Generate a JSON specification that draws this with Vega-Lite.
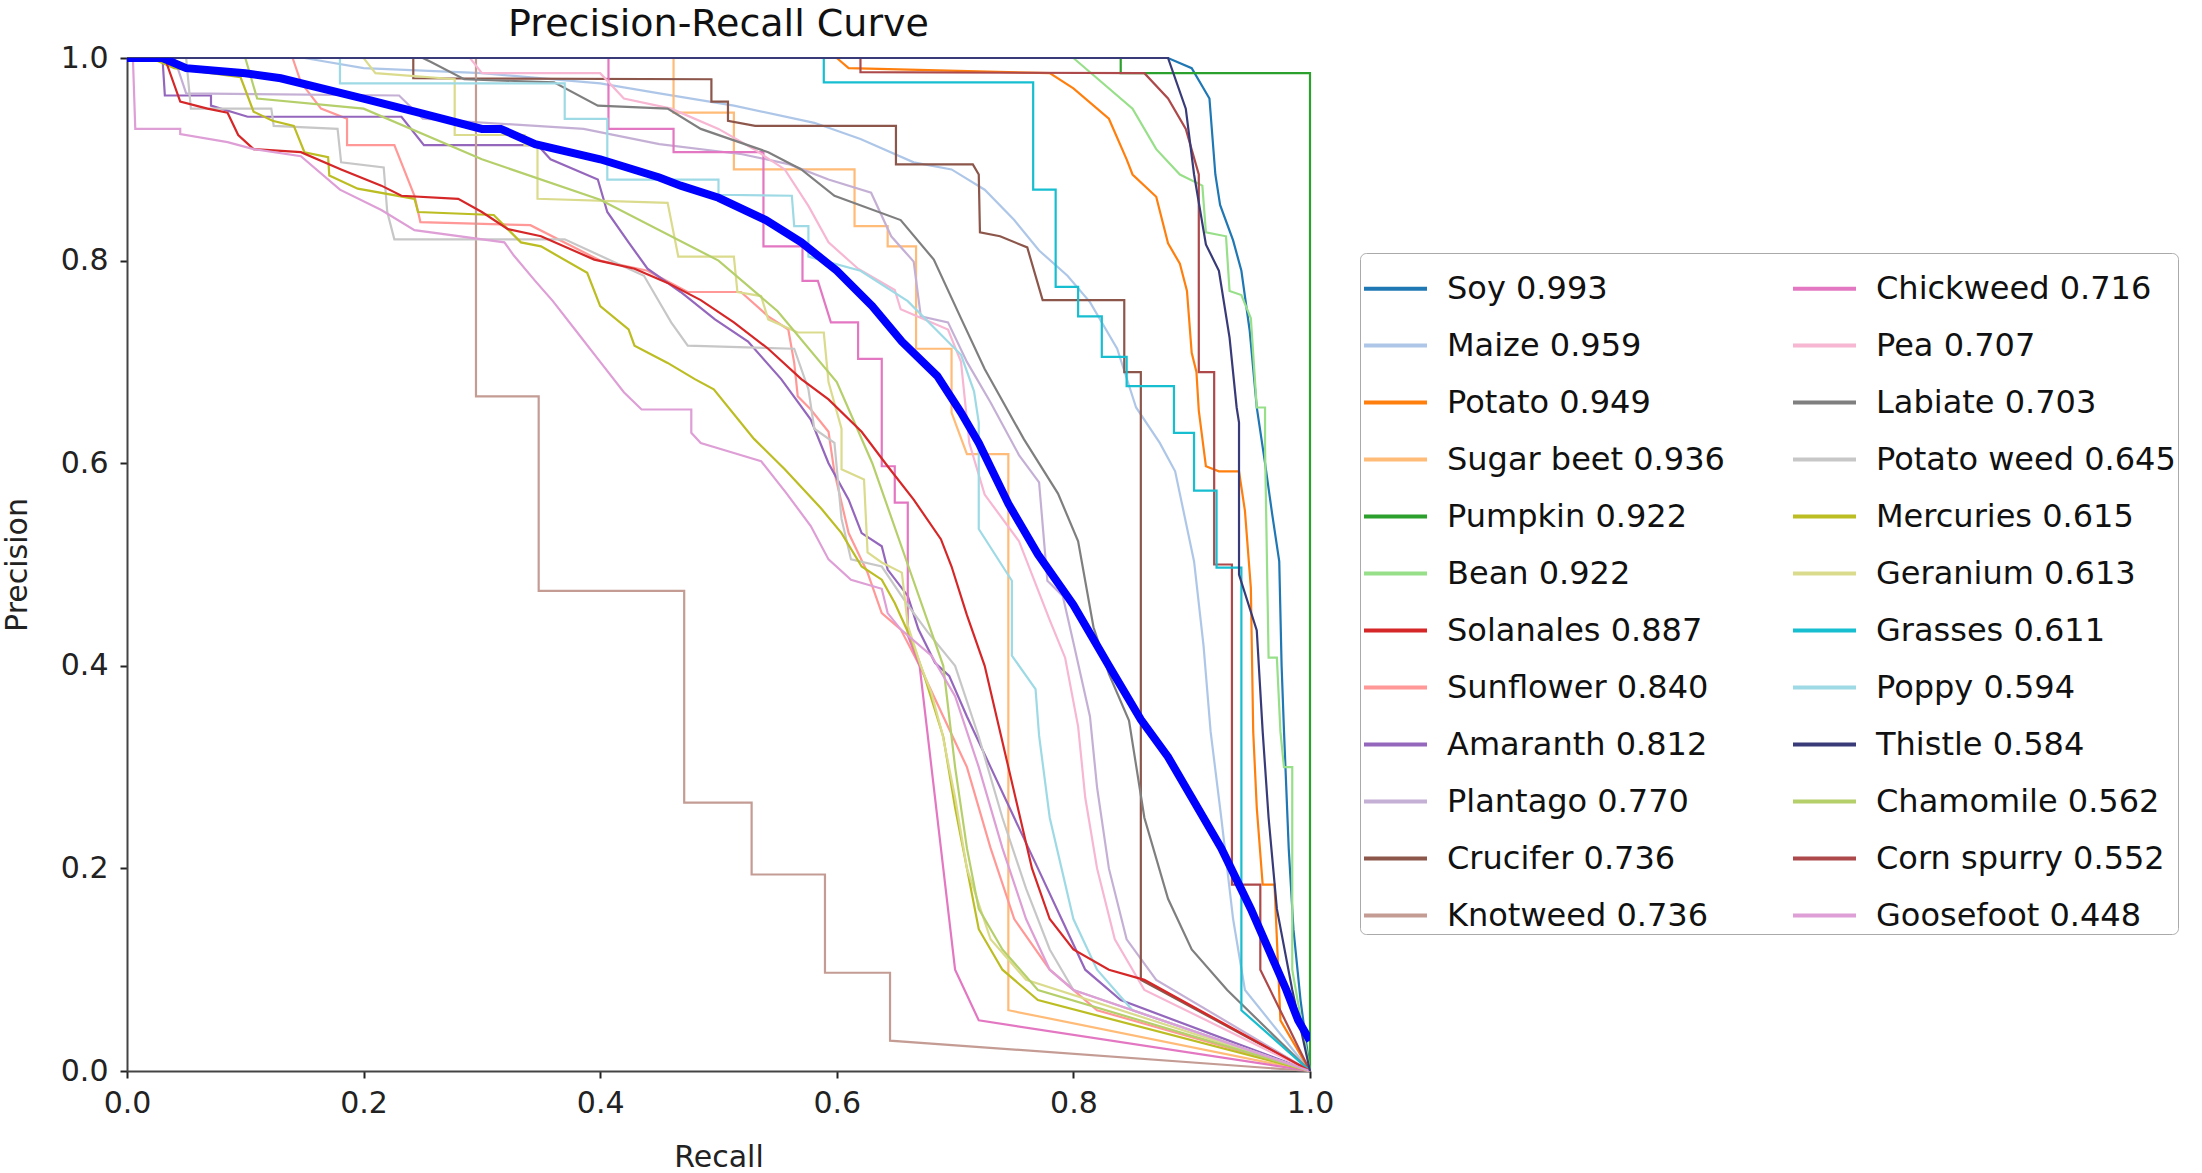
{
  "$schema": "https://vega.github.io/schema/vega-lite/v6.json",
  "width": 1183,
  "height": 1013,
  "autosize": {"type": "none"},
  "padding": {"left": 127, "top": 58, "right": 892, "bottom": 102},
  "background": "white",
  "title": {"text": "Precision-Recall Curve", "fontSize": 38, "font": "DejaVu Sans", "fontWeight": "normal", "color": "#111", "offset": -1},
  "data": {
    "values": [
      {"c":"Soy 0.993","x":0,"y":1},{"c":"Soy 0.993","x":0.88,"y":1},{"c":"Soy 0.993","x":0.9,"y":0.99},{"c":"Soy 0.993","x":0.915,"y":0.96},{"c":"Soy 0.993","x":0.92,"y":0.885},{"c":"Soy 0.993","x":0.924,"y":0.855},{"c":"Soy 0.993","x":0.935,"y":0.82},{"c":"Soy 0.993","x":0.942,"y":0.79},{"c":"Soy 0.993","x":0.949,"y":0.731},{"c":"Soy 0.993","x":0.955,"y":0.655},{"c":"Soy 0.993","x":0.962,"y":0.6},{"c":"Soy 0.993","x":0.968,"y":0.55},{"c":"Soy 0.993","x":0.974,"y":0.503},{"c":"Soy 0.993","x":0.976,"y":0.4},{"c":"Soy 0.993","x":0.978,"y":0.336},{"c":"Soy 0.993","x":0.982,"y":0.22},{"c":"Soy 0.993","x":0.986,"y":0.14},{"c":"Soy 0.993","x":0.992,"y":0.07},{"c":"Soy 0.993","x":1,"y":0},

      {"c":"Maize 0.959","x":0,"y":1},{"c":"Maize 0.959","x":0.15,"y":1},{"c":"Maize 0.959","x":0.2,"y":0.99},{"c":"Maize 0.959","x":0.3,"y":0.985},{"c":"Maize 0.959","x":0.4,"y":0.975},{"c":"Maize 0.959","x":0.45,"y":0.965},{"c":"Maize 0.959","x":0.513,"y":0.953},{"c":"Maize 0.959","x":0.581,"y":0.936},{"c":"Maize 0.959","x":0.62,"y":0.92},{"c":"Maize 0.959","x":0.665,"y":0.897},{"c":"Maize 0.959","x":0.697,"y":0.89},{"c":"Maize 0.959","x":0.725,"y":0.87},{"c":"Maize 0.959","x":0.75,"y":0.84},{"c":"Maize 0.959","x":0.771,"y":0.81},{"c":"Maize 0.959","x":0.795,"y":0.785},{"c":"Maize 0.959","x":0.814,"y":0.759},{"c":"Maize 0.959","x":0.837,"y":0.713},{"c":"Maize 0.959","x":0.853,"y":0.655},{"c":"Maize 0.959","x":0.873,"y":0.62},{"c":"Maize 0.959","x":0.886,"y":0.592},{"c":"Maize 0.959","x":0.902,"y":0.503},{"c":"Maize 0.959","x":0.91,"y":0.42},{"c":"Maize 0.959","x":0.916,"y":0.335},{"c":"Maize 0.959","x":0.925,"y":0.25},{"c":"Maize 0.959","x":0.935,"y":0.15},{"c":"Maize 0.959","x":0.945,"y":0.08},{"c":"Maize 0.959","x":1,"y":0},

      {"c":"Potato 0.949","x":0,"y":1},{"c":"Potato 0.949","x":0.6,"y":1},{"c":"Potato 0.949","x":0.61,"y":0.99},{"c":"Potato 0.949","x":0.78,"y":0.985},{"c":"Potato 0.949","x":0.8,"y":0.97},{"c":"Potato 0.949","x":0.83,"y":0.94},{"c":"Potato 0.949","x":0.845,"y":0.9},{"c":"Potato 0.949","x":0.85,"y":0.885},{"c":"Potato 0.949","x":0.87,"y":0.863},{"c":"Potato 0.949","x":0.88,"y":0.817},{"c":"Potato 0.949","x":0.89,"y":0.797},{"c":"Potato 0.949","x":0.896,"y":0.77},{"c":"Potato 0.949","x":0.9,"y":0.709},{"c":"Potato 0.949","x":0.904,"y":0.69},{"c":"Potato 0.949","x":0.906,"y":0.652},{"c":"Potato 0.949","x":0.912,"y":0.597},{"c":"Potato 0.949","x":0.923,"y":0.592},{"c":"Potato 0.949","x":0.94,"y":0.592},{"c":"Potato 0.949","x":0.945,"y":0.553},{"c":"Potato 0.949","x":0.95,"y":0.477},{"c":"Potato 0.949","x":0.952,"y":0.335},{"c":"Potato 0.949","x":0.955,"y":0.26},{"c":"Potato 0.949","x":0.96,"y":0.184},{"c":"Potato 0.949","x":0.97,"y":0.184},{"c":"Potato 0.949","x":0.975,"y":0.05},{"c":"Potato 0.949","x":1,"y":0},

      {"c":"Sugar beet 0.936","x":0,"y":1},{"c":"Sugar beet 0.936","x":0.462,"y":1},{"c":"Sugar beet 0.936","x":0.462,"y":0.946},{"c":"Sugar beet 0.936","x":0.513,"y":0.946},{"c":"Sugar beet 0.936","x":0.513,"y":0.89},{"c":"Sugar beet 0.936","x":0.615,"y":0.89},{"c":"Sugar beet 0.936","x":0.615,"y":0.834},{"c":"Sugar beet 0.936","x":0.643,"y":0.834},{"c":"Sugar beet 0.936","x":0.643,"y":0.814},{"c":"Sugar beet 0.936","x":0.667,"y":0.814},{"c":"Sugar beet 0.936","x":0.667,"y":0.713},{"c":"Sugar beet 0.936","x":0.697,"y":0.713},{"c":"Sugar beet 0.936","x":0.697,"y":0.65},{"c":"Sugar beet 0.936","x":0.71,"y":0.609},{"c":"Sugar beet 0.936","x":0.745,"y":0.609},{"c":"Sugar beet 0.936","x":0.745,"y":0.06},{"c":"Sugar beet 0.936","x":1,"y":0},

      {"c":"Pumpkin 0.922","x":0,"y":1},{"c":"Pumpkin 0.922","x":0.84,"y":1},{"c":"Pumpkin 0.922","x":0.84,"y":0.985},{"c":"Pumpkin 0.922","x":1,"y":0.985},{"c":"Pumpkin 0.922","x":1,"y":0},

      {"c":"Bean 0.922","x":0,"y":1},{"c":"Bean 0.922","x":0.8,"y":1},{"c":"Bean 0.922","x":0.82,"y":0.98},{"c":"Bean 0.922","x":0.85,"y":0.95},{"c":"Bean 0.922","x":0.87,"y":0.91},{"c":"Bean 0.922","x":0.89,"y":0.885},{"c":"Bean 0.922","x":0.909,"y":0.874},{"c":"Bean 0.922","x":0.912,"y":0.828},{"c":"Bean 0.922","x":0.929,"y":0.824},{"c":"Bean 0.922","x":0.932,"y":0.77},{"c":"Bean 0.922","x":0.942,"y":0.766},{"c":"Bean 0.922","x":0.95,"y":0.743},{"c":"Bean 0.922","x":0.955,"y":0.655},{"c":"Bean 0.922","x":0.962,"y":0.655},{"c":"Bean 0.922","x":0.962,"y":0.616},{"c":"Bean 0.922","x":0.965,"y":0.408},{"c":"Bean 0.922","x":0.972,"y":0.408},{"c":"Bean 0.922","x":0.975,"y":0.335},{"c":"Bean 0.922","x":0.978,"y":0.3},{"c":"Bean 0.922","x":0.985,"y":0.3},{"c":"Bean 0.922","x":0.985,"y":0.1},{"c":"Bean 0.922","x":1,"y":0},

      {"c":"Corn spurry 0.552","x":0,"y":1},{"c":"Corn spurry 0.552","x":0.62,"y":1},{"c":"Corn spurry 0.552","x":0.62,"y":0.986},{"c":"Corn spurry 0.552","x":0.86,"y":0.985},{"c":"Corn spurry 0.552","x":0.88,"y":0.96},{"c":"Corn spurry 0.552","x":0.895,"y":0.93},{"c":"Corn spurry 0.552","x":0.906,"y":0.885},{"c":"Corn spurry 0.552","x":0.906,"y":0.69},{"c":"Corn spurry 0.552","x":0.919,"y":0.69},{"c":"Corn spurry 0.552","x":0.919,"y":0.5},{"c":"Corn spurry 0.552","x":0.934,"y":0.5},{"c":"Corn spurry 0.552","x":0.934,"y":0.184},{"c":"Corn spurry 0.552","x":0.958,"y":0.184},{"c":"Corn spurry 0.552","x":0.958,"y":0.1},{"c":"Corn spurry 0.552","x":1,"y":0},

      {"c":"Sunflower 0.840","x":0,"y":1},{"c":"Sunflower 0.840","x":0.14,"y":1},{"c":"Sunflower 0.840","x":0.147,"y":0.976},{"c":"Sunflower 0.840","x":0.164,"y":0.95},{"c":"Sunflower 0.840","x":0.186,"y":0.94},{"c":"Sunflower 0.840","x":0.186,"y":0.914},{"c":"Sunflower 0.840","x":0.226,"y":0.914},{"c":"Sunflower 0.840","x":0.243,"y":0.864},{"c":"Sunflower 0.840","x":0.248,"y":0.838},{"c":"Sunflower 0.840","x":0.341,"y":0.835},{"c":"Sunflower 0.840","x":0.4,"y":0.8},{"c":"Sunflower 0.840","x":0.44,"y":0.79},{"c":"Sunflower 0.840","x":0.474,"y":0.769},{"c":"Sunflower 0.840","x":0.519,"y":0.769},{"c":"Sunflower 0.840","x":0.542,"y":0.745},{"c":"Sunflower 0.840","x":0.559,"y":0.732},{"c":"Sunflower 0.840","x":0.564,"y":0.699},{"c":"Sunflower 0.840","x":0.567,"y":0.666},{"c":"Sunflower 0.840","x":0.578,"y":0.653},{"c":"Sunflower 0.840","x":0.593,"y":0.631},{"c":"Sunflower 0.840","x":0.598,"y":0.591},{"c":"Sunflower 0.840","x":0.61,"y":0.531},{"c":"Sunflower 0.840","x":0.626,"y":0.492},{"c":"Sunflower 0.840","x":0.638,"y":0.452},{"c":"Sunflower 0.840","x":0.654,"y":0.436},{"c":"Sunflower 0.840","x":0.67,"y":0.4},{"c":"Sunflower 0.840","x":0.69,"y":0.35},{"c":"Sunflower 0.840","x":0.71,"y":0.3},{"c":"Sunflower 0.840","x":0.73,"y":0.22},{"c":"Sunflower 0.840","x":0.75,"y":0.15},{"c":"Sunflower 0.840","x":0.78,"y":0.1},{"c":"Sunflower 0.840","x":0.82,"y":0.06},{"c":"Sunflower 0.840","x":1,"y":0},

      {"c":"Amaranth 0.812","x":0,"y":1},{"c":"Amaranth 0.812","x":0.03,"y":1},{"c":"Amaranth 0.812","x":0.032,"y":0.963},{"c":"Amaranth 0.812","x":0.071,"y":0.963},{"c":"Amaranth 0.812","x":0.071,"y":0.953},{"c":"Amaranth 0.812","x":0.102,"y":0.942},{"c":"Amaranth 0.812","x":0.232,"y":0.942},{"c":"Amaranth 0.812","x":0.251,"y":0.914},{"c":"Amaranth 0.812","x":0.347,"y":0.914},{"c":"Amaranth 0.812","x":0.358,"y":0.9},{"c":"Amaranth 0.812","x":0.398,"y":0.88},{"c":"Amaranth 0.812","x":0.406,"y":0.848},{"c":"Amaranth 0.812","x":0.424,"y":0.818},{"c":"Amaranth 0.812","x":0.44,"y":0.792},{"c":"Amaranth 0.812","x":0.468,"y":0.769},{"c":"Amaranth 0.812","x":0.497,"y":0.742},{"c":"Amaranth 0.812","x":0.525,"y":0.72},{"c":"Amaranth 0.812","x":0.553,"y":0.683},{"c":"Amaranth 0.812","x":0.578,"y":0.643},{"c":"Amaranth 0.812","x":0.593,"y":0.6},{"c":"Amaranth 0.812","x":0.61,"y":0.564},{"c":"Amaranth 0.812","x":0.621,"y":0.531},{"c":"Amaranth 0.812","x":0.638,"y":0.518},{"c":"Amaranth 0.812","x":0.643,"y":0.495},{"c":"Amaranth 0.812","x":0.66,"y":0.469},{"c":"Amaranth 0.812","x":0.669,"y":0.436},{"c":"Amaranth 0.812","x":0.683,"y":0.403},{"c":"Amaranth 0.812","x":0.695,"y":0.39},{"c":"Amaranth 0.812","x":0.71,"y":0.35},{"c":"Amaranth 0.812","x":0.73,"y":0.3},{"c":"Amaranth 0.812","x":0.75,"y":0.25},{"c":"Amaranth 0.812","x":0.77,"y":0.2},{"c":"Amaranth 0.812","x":0.79,"y":0.15},{"c":"Amaranth 0.812","x":0.81,"y":0.1},{"c":"Amaranth 0.812","x":0.84,"y":0.07},{"c":"Amaranth 0.812","x":1,"y":0},

      {"c":"Plantago 0.770","x":0,"y":1},{"c":"Plantago 0.770","x":0.04,"y":1},{"c":"Plantago 0.770","x":0.05,"y":0.965},{"c":"Plantago 0.770","x":0.23,"y":0.963},{"c":"Plantago 0.770","x":0.25,"y":0.94},{"c":"Plantago 0.770","x":0.386,"y":0.93},{"c":"Plantago 0.770","x":0.45,"y":0.915},{"c":"Plantago 0.770","x":0.52,"y":0.905},{"c":"Plantago 0.770","x":0.56,"y":0.895},{"c":"Plantago 0.770","x":0.593,"y":0.88},{"c":"Plantago 0.770","x":0.629,"y":0.867},{"c":"Plantago 0.770","x":0.646,"y":0.824},{"c":"Plantago 0.770","x":0.665,"y":0.799},{"c":"Plantago 0.770","x":0.671,"y":0.745},{"c":"Plantago 0.770","x":0.694,"y":0.739},{"c":"Plantago 0.770","x":0.71,"y":0.7},{"c":"Plantago 0.770","x":0.73,"y":0.66},{"c":"Plantago 0.770","x":0.754,"y":0.608},{"c":"Plantago 0.770","x":0.771,"y":0.581},{"c":"Plantago 0.770","x":0.778,"y":0.484},{"c":"Plantago 0.770","x":0.791,"y":0.469},{"c":"Plantago 0.770","x":0.8,"y":0.423},{"c":"Plantago 0.770","x":0.814,"y":0.35},{"c":"Plantago 0.770","x":0.82,"y":0.28},{"c":"Plantago 0.770","x":0.83,"y":0.2},{"c":"Plantago 0.770","x":0.845,"y":0.13},{"c":"Plantago 0.770","x":0.87,"y":0.09},{"c":"Plantago 0.770","x":1,"y":0},

      {"c":"Crucifer 0.736","x":0,"y":1},{"c":"Crucifer 0.736","x":0.242,"y":1},{"c":"Crucifer 0.736","x":0.242,"y":0.98},{"c":"Crucifer 0.736","x":0.494,"y":0.979},{"c":"Crucifer 0.736","x":0.494,"y":0.957},{"c":"Crucifer 0.736","x":0.508,"y":0.957},{"c":"Crucifer 0.736","x":0.508,"y":0.938},{"c":"Crucifer 0.736","x":0.531,"y":0.933},{"c":"Crucifer 0.736","x":0.65,"y":0.933},{"c":"Crucifer 0.736","x":0.65,"y":0.895},{"c":"Crucifer 0.736","x":0.715,"y":0.895},{"c":"Crucifer 0.736","x":0.72,"y":0.885},{"c":"Crucifer 0.736","x":0.721,"y":0.828},{"c":"Crucifer 0.736","x":0.738,"y":0.824},{"c":"Crucifer 0.736","x":0.761,"y":0.813},{"c":"Crucifer 0.736","x":0.774,"y":0.761},{"c":"Crucifer 0.736","x":0.843,"y":0.761},{"c":"Crucifer 0.736","x":0.843,"y":0.69},{"c":"Crucifer 0.736","x":0.857,"y":0.69},{"c":"Crucifer 0.736","x":0.857,"y":0.09},{"c":"Crucifer 0.736","x":1,"y":0},

      {"c":"Knotweed 0.736","x":0,"y":1},{"c":"Knotweed 0.736","x":0.295,"y":1},{"c":"Knotweed 0.736","x":0.295,"y":0.666},{"c":"Knotweed 0.736","x":0.348,"y":0.666},{"c":"Knotweed 0.736","x":0.348,"y":0.474},{"c":"Knotweed 0.736","x":0.471,"y":0.474},{"c":"Knotweed 0.736","x":0.471,"y":0.265},{"c":"Knotweed 0.736","x":0.528,"y":0.265},{"c":"Knotweed 0.736","x":0.528,"y":0.194},{"c":"Knotweed 0.736","x":0.59,"y":0.194},{"c":"Knotweed 0.736","x":0.59,"y":0.097},{"c":"Knotweed 0.736","x":0.645,"y":0.097},{"c":"Knotweed 0.736","x":0.645,"y":0.03},{"c":"Knotweed 0.736","x":1,"y":0},

      {"c":"Chickweed 0.716","x":0,"y":1},{"c":"Chickweed 0.716","x":0.407,"y":1},{"c":"Chickweed 0.716","x":0.407,"y":0.93},{"c":"Chickweed 0.716","x":0.462,"y":0.93},{"c":"Chickweed 0.716","x":0.462,"y":0.907},{"c":"Chickweed 0.716","x":0.538,"y":0.907},{"c":"Chickweed 0.716","x":0.538,"y":0.814},{"c":"Chickweed 0.716","x":0.571,"y":0.814},{"c":"Chickweed 0.716","x":0.571,"y":0.78},{"c":"Chickweed 0.716","x":0.584,"y":0.78},{"c":"Chickweed 0.716","x":0.595,"y":0.739},{"c":"Chickweed 0.716","x":0.618,"y":0.739},{"c":"Chickweed 0.716","x":0.618,"y":0.703},{"c":"Chickweed 0.716","x":0.638,"y":0.703},{"c":"Chickweed 0.716","x":0.638,"y":0.597},{"c":"Chickweed 0.716","x":0.649,"y":0.597},{"c":"Chickweed 0.716","x":0.649,"y":0.561},{"c":"Chickweed 0.716","x":0.66,"y":0.561},{"c":"Chickweed 0.716","x":0.66,"y":0.43},{"c":"Chickweed 0.716","x":0.67,"y":0.4},{"c":"Chickweed 0.716","x":0.68,"y":0.3},{"c":"Chickweed 0.716","x":0.69,"y":0.2},{"c":"Chickweed 0.716","x":0.7,"y":0.1},{"c":"Chickweed 0.716","x":0.72,"y":0.05},{"c":"Chickweed 0.716","x":1,"y":0},

      {"c":"Pea 0.707","x":0,"y":1},{"c":"Pea 0.707","x":0.29,"y":1},{"c":"Pea 0.707","x":0.3,"y":0.985},{"c":"Pea 0.707","x":0.4,"y":0.985},{"c":"Pea 0.707","x":0.42,"y":0.96},{"c":"Pea 0.707","x":0.46,"y":0.95},{"c":"Pea 0.707","x":0.5,"y":0.93},{"c":"Pea 0.707","x":0.53,"y":0.91},{"c":"Pea 0.707","x":0.556,"y":0.89},{"c":"Pea 0.707","x":0.576,"y":0.854},{"c":"Pea 0.707","x":0.593,"y":0.818},{"c":"Pea 0.707","x":0.618,"y":0.792},{"c":"Pea 0.707","x":0.649,"y":0.771},{"c":"Pea 0.707","x":0.654,"y":0.752},{"c":"Pea 0.707","x":0.694,"y":0.732},{"c":"Pea 0.707","x":0.705,"y":0.7},{"c":"Pea 0.707","x":0.712,"y":0.62},{"c":"Pea 0.707","x":0.725,"y":0.569},{"c":"Pea 0.707","x":0.754,"y":0.523},{"c":"Pea 0.707","x":0.78,"y":0.445},{"c":"Pea 0.707","x":0.793,"y":0.408},{"c":"Pea 0.707","x":0.804,"y":0.34},{"c":"Pea 0.707","x":0.81,"y":0.27},{"c":"Pea 0.707","x":0.82,"y":0.2},{"c":"Pea 0.707","x":0.835,"y":0.13},{"c":"Pea 0.707","x":0.86,"y":0.08},{"c":"Pea 0.707","x":1,"y":0},

      {"c":"Labiate 0.703","x":0,"y":1},{"c":"Labiate 0.703","x":0.25,"y":1},{"c":"Labiate 0.703","x":0.257,"y":0.996},{"c":"Labiate 0.703","x":0.285,"y":0.979},{"c":"Labiate 0.703","x":0.361,"y":0.976},{"c":"Labiate 0.703","x":0.398,"y":0.953},{"c":"Labiate 0.703","x":0.457,"y":0.95},{"c":"Labiate 0.703","x":0.485,"y":0.93},{"c":"Labiate 0.703","x":0.542,"y":0.907},{"c":"Labiate 0.703","x":0.57,"y":0.89},{"c":"Labiate 0.703","x":0.598,"y":0.864},{"c":"Labiate 0.703","x":0.654,"y":0.84},{"c":"Labiate 0.703","x":0.682,"y":0.801},{"c":"Labiate 0.703","x":0.705,"y":0.743},{"c":"Labiate 0.703","x":0.725,"y":0.693},{"c":"Labiate 0.703","x":0.758,"y":0.624},{"c":"Labiate 0.703","x":0.787,"y":0.57},{"c":"Labiate 0.703","x":0.804,"y":0.523},{"c":"Labiate 0.703","x":0.817,"y":0.438},{"c":"Labiate 0.703","x":0.83,"y":0.392},{"c":"Labiate 0.703","x":0.847,"y":0.346},{"c":"Labiate 0.703","x":0.86,"y":0.25},{"c":"Labiate 0.703","x":0.88,"y":0.17},{"c":"Labiate 0.703","x":0.9,"y":0.12},{"c":"Labiate 0.703","x":0.93,"y":0.08},{"c":"Labiate 0.703","x":1,"y":0},

      {"c":"Potato weed 0.645","x":0,"y":1},{"c":"Potato weed 0.645","x":0.05,"y":1},{"c":"Potato weed 0.645","x":0.054,"y":0.95},{"c":"Potato weed 0.645","x":0.122,"y":0.95},{"c":"Potato weed 0.645","x":0.124,"y":0.933},{"c":"Potato weed 0.645","x":0.178,"y":0.93},{"c":"Potato weed 0.645","x":0.181,"y":0.897},{"c":"Potato weed 0.645","x":0.217,"y":0.892},{"c":"Potato weed 0.645","x":0.22,"y":0.848},{"c":"Potato weed 0.645","x":0.226,"y":0.821},{"c":"Potato weed 0.645","x":0.37,"y":0.821},{"c":"Potato weed 0.645","x":0.437,"y":0.785},{"c":"Potato weed 0.645","x":0.46,"y":0.739},{"c":"Potato weed 0.645","x":0.474,"y":0.716},{"c":"Potato weed 0.645","x":0.564,"y":0.713},{"c":"Potato weed 0.645","x":0.576,"y":0.673},{"c":"Potato weed 0.645","x":0.581,"y":0.634},{"c":"Potato weed 0.645","x":0.598,"y":0.62},{"c":"Potato weed 0.645","x":0.604,"y":0.545},{"c":"Potato weed 0.645","x":0.612,"y":0.505},{"c":"Potato weed 0.645","x":0.638,"y":0.498},{"c":"Potato weed 0.645","x":0.66,"y":0.46},{"c":"Potato weed 0.645","x":0.677,"y":0.433},{"c":"Potato weed 0.645","x":0.7,"y":0.4},{"c":"Potato weed 0.645","x":0.72,"y":0.33},{"c":"Potato weed 0.645","x":0.74,"y":0.25},{"c":"Potato weed 0.645","x":0.76,"y":0.18},{"c":"Potato weed 0.645","x":0.78,"y":0.12},{"c":"Potato weed 0.645","x":0.8,"y":0.08},{"c":"Potato weed 0.645","x":1,"y":0},

      {"c":"Mercuries 0.615","x":0,"y":1},{"c":"Mercuries 0.615","x":0.02,"y":1},{"c":"Mercuries 0.615","x":0.04,"y":0.99},{"c":"Mercuries 0.615","x":0.096,"y":0.981},{"c":"Mercuries 0.615","x":0.107,"y":0.947},{"c":"Mercuries 0.615","x":0.123,"y":0.938},{"c":"Mercuries 0.615","x":0.141,"y":0.933},{"c":"Mercuries 0.615","x":0.15,"y":0.907},{"c":"Mercuries 0.615","x":0.17,"y":0.902},{"c":"Mercuries 0.615","x":0.171,"y":0.884},{"c":"Mercuries 0.615","x":0.195,"y":0.871},{"c":"Mercuries 0.615","x":0.243,"y":0.861},{"c":"Mercuries 0.615","x":0.246,"y":0.848},{"c":"Mercuries 0.615","x":0.31,"y":0.845},{"c":"Mercuries 0.615","x":0.333,"y":0.818},{"c":"Mercuries 0.615","x":0.35,"y":0.814},{"c":"Mercuries 0.615","x":0.389,"y":0.788},{"c":"Mercuries 0.615","x":0.4,"y":0.755},{"c":"Mercuries 0.615","x":0.424,"y":0.732},{"c":"Mercuries 0.615","x":0.429,"y":0.716},{"c":"Mercuries 0.615","x":0.457,"y":0.699},{"c":"Mercuries 0.615","x":0.48,"y":0.683},{"c":"Mercuries 0.615","x":0.496,"y":0.673},{"c":"Mercuries 0.615","x":0.53,"y":0.624},{"c":"Mercuries 0.615","x":0.556,"y":0.594},{"c":"Mercuries 0.615","x":0.587,"y":0.555},{"c":"Mercuries 0.615","x":0.604,"y":0.531},{"c":"Mercuries 0.615","x":0.621,"y":0.498},{"c":"Mercuries 0.615","x":0.638,"y":0.485},{"c":"Mercuries 0.615","x":0.649,"y":0.462},{"c":"Mercuries 0.615","x":0.663,"y":0.426},{"c":"Mercuries 0.615","x":0.674,"y":0.39},{"c":"Mercuries 0.615","x":0.69,"y":0.33},{"c":"Mercuries 0.615","x":0.7,"y":0.26},{"c":"Mercuries 0.615","x":0.71,"y":0.2},{"c":"Mercuries 0.615","x":0.72,"y":0.14},{"c":"Mercuries 0.615","x":0.74,"y":0.1},{"c":"Mercuries 0.615","x":0.77,"y":0.07},{"c":"Mercuries 0.615","x":1,"y":0},

      {"c":"Geranium 0.613","x":0,"y":1},{"c":"Geranium 0.613","x":0.2,"y":1},{"c":"Geranium 0.613","x":0.21,"y":0.985},{"c":"Geranium 0.613","x":0.277,"y":0.979},{"c":"Geranium 0.613","x":0.277,"y":0.924},{"c":"Geranium 0.613","x":0.336,"y":0.924},{"c":"Geranium 0.613","x":0.336,"y":0.914},{"c":"Geranium 0.613","x":0.347,"y":0.914},{"c":"Geranium 0.613","x":0.347,"y":0.861},{"c":"Geranium 0.613","x":0.457,"y":0.857},{"c":"Geranium 0.613","x":0.466,"y":0.804},{"c":"Geranium 0.613","x":0.513,"y":0.804},{"c":"Geranium 0.613","x":0.516,"y":0.769},{"c":"Geranium 0.613","x":0.536,"y":0.765},{"c":"Geranium 0.613","x":0.542,"y":0.742},{"c":"Geranium 0.613","x":0.567,"y":0.729},{"c":"Geranium 0.613","x":0.589,"y":0.729},{"c":"Geranium 0.613","x":0.593,"y":0.68},{"c":"Geranium 0.613","x":0.604,"y":0.634},{"c":"Geranium 0.613","x":0.604,"y":0.594},{"c":"Geranium 0.613","x":0.623,"y":0.584},{"c":"Geranium 0.613","x":0.626,"y":0.512},{"c":"Geranium 0.613","x":0.638,"y":0.502},{"c":"Geranium 0.613","x":0.655,"y":0.492},{"c":"Geranium 0.613","x":0.66,"y":0.44},{"c":"Geranium 0.613","x":0.671,"y":0.4},{"c":"Geranium 0.613","x":0.68,"y":0.373},{"c":"Geranium 0.613","x":0.689,"y":0.334},{"c":"Geranium 0.613","x":0.7,"y":0.27},{"c":"Geranium 0.613","x":0.71,"y":0.2},{"c":"Geranium 0.613","x":0.73,"y":0.13},{"c":"Geranium 0.613","x":0.76,"y":0.09},{"c":"Geranium 0.613","x":1,"y":0},

      {"c":"Grasses 0.611","x":0,"y":1},{"c":"Grasses 0.611","x":0.589,"y":1},{"c":"Grasses 0.611","x":0.589,"y":0.976},{"c":"Grasses 0.611","x":0.766,"y":0.976},{"c":"Grasses 0.611","x":0.766,"y":0.87},{"c":"Grasses 0.611","x":0.785,"y":0.87},{"c":"Grasses 0.611","x":0.785,"y":0.774},{"c":"Grasses 0.611","x":0.804,"y":0.774},{"c":"Grasses 0.611","x":0.804,"y":0.745},{"c":"Grasses 0.611","x":0.824,"y":0.745},{"c":"Grasses 0.611","x":0.824,"y":0.705},{"c":"Grasses 0.611","x":0.845,"y":0.705},{"c":"Grasses 0.611","x":0.845,"y":0.676},{"c":"Grasses 0.611","x":0.885,"y":0.676},{"c":"Grasses 0.611","x":0.885,"y":0.63},{"c":"Grasses 0.611","x":0.902,"y":0.63},{"c":"Grasses 0.611","x":0.902,"y":0.573},{"c":"Grasses 0.611","x":0.921,"y":0.573},{"c":"Grasses 0.611","x":0.921,"y":0.497},{"c":"Grasses 0.611","x":0.942,"y":0.497},{"c":"Grasses 0.611","x":0.942,"y":0.06},{"c":"Grasses 0.611","x":1,"y":0},

      {"c":"Poppy 0.594","x":0,"y":1},{"c":"Poppy 0.594","x":0.18,"y":1},{"c":"Poppy 0.594","x":0.18,"y":0.975},{"c":"Poppy 0.594","x":0.37,"y":0.975},{"c":"Poppy 0.594","x":0.37,"y":0.94},{"c":"Poppy 0.594","x":0.406,"y":0.94},{"c":"Poppy 0.594","x":0.406,"y":0.88},{"c":"Poppy 0.594","x":0.5,"y":0.88},{"c":"Poppy 0.594","x":0.5,"y":0.865},{"c":"Poppy 0.594","x":0.562,"y":0.864},{"c":"Poppy 0.594","x":0.564,"y":0.834},{"c":"Poppy 0.594","x":0.576,"y":0.834},{"c":"Poppy 0.594","x":0.576,"y":0.804},{"c":"Poppy 0.594","x":0.62,"y":0.79},{"c":"Poppy 0.594","x":0.66,"y":0.76},{"c":"Poppy 0.594","x":0.705,"y":0.707},{"c":"Poppy 0.594","x":0.716,"y":0.671},{"c":"Poppy 0.594","x":0.72,"y":0.64},{"c":"Poppy 0.594","x":0.72,"y":0.535},{"c":"Poppy 0.594","x":0.748,"y":0.484},{"c":"Poppy 0.594","x":0.748,"y":0.41},{"c":"Poppy 0.594","x":0.768,"y":0.377},{"c":"Poppy 0.594","x":0.771,"y":0.331},{"c":"Poppy 0.594","x":0.78,"y":0.25},{"c":"Poppy 0.594","x":0.8,"y":0.15},{"c":"Poppy 0.594","x":0.82,"y":0.1},{"c":"Poppy 0.594","x":0.85,"y":0.06},{"c":"Poppy 0.594","x":1,"y":0},

      {"c":"Chamomile 0.562","x":0,"y":1},{"c":"Chamomile 0.562","x":0.1,"y":1},{"c":"Chamomile 0.562","x":0.11,"y":0.96},{"c":"Chamomile 0.562","x":0.2,"y":0.95},{"c":"Chamomile 0.562","x":0.3,"y":0.9},{"c":"Chamomile 0.562","x":0.4,"y":0.86},{"c":"Chamomile 0.562","x":0.5,"y":0.8},{"c":"Chamomile 0.562","x":0.55,"y":0.75},{"c":"Chamomile 0.562","x":0.6,"y":0.68},{"c":"Chamomile 0.562","x":0.63,"y":0.6},{"c":"Chamomile 0.562","x":0.66,"y":0.5},{"c":"Chamomile 0.562","x":0.69,"y":0.4},{"c":"Chamomile 0.562","x":0.7,"y":0.3},{"c":"Chamomile 0.562","x":0.71,"y":0.22},{"c":"Chamomile 0.562","x":0.72,"y":0.16},{"c":"Chamomile 0.562","x":0.74,"y":0.12},{"c":"Chamomile 0.562","x":0.77,"y":0.08},{"c":"Chamomile 0.562","x":1,"y":0},

      {"c":"Solanales 0.887","x":0,"y":1},{"c":"Solanales 0.887","x":0.033,"y":1},{"c":"Solanales 0.887","x":0.034,"y":0.993},{"c":"Solanales 0.887","x":0.045,"y":0.957},{"c":"Solanales 0.887","x":0.068,"y":0.95},{"c":"Solanales 0.887","x":0.085,"y":0.946},{"c":"Solanales 0.887","x":0.094,"y":0.924},{"c":"Solanales 0.887","x":0.107,"y":0.91},{"c":"Solanales 0.887","x":0.147,"y":0.907},{"c":"Solanales 0.887","x":0.181,"y":0.89},{"c":"Solanales 0.887","x":0.215,"y":0.874},{"c":"Solanales 0.887","x":0.232,"y":0.864},{"c":"Solanales 0.887","x":0.28,"y":0.861},{"c":"Solanales 0.887","x":0.3,"y":0.848},{"c":"Solanales 0.887","x":0.322,"y":0.831},{"c":"Solanales 0.887","x":0.35,"y":0.824},{"c":"Solanales 0.887","x":0.395,"y":0.801},{"c":"Solanales 0.887","x":0.429,"y":0.792},{"c":"Solanales 0.887","x":0.457,"y":0.778},{"c":"Solanales 0.887","x":0.485,"y":0.761},{"c":"Solanales 0.887","x":0.513,"y":0.739},{"c":"Solanales 0.887","x":0.542,"y":0.713},{"c":"Solanales 0.887","x":0.57,"y":0.683},{"c":"Solanales 0.887","x":0.593,"y":0.663},{"c":"Solanales 0.887","x":0.621,"y":0.631},{"c":"Solanales 0.887","x":0.643,"y":0.597},{"c":"Solanales 0.887","x":0.665,"y":0.564},{"c":"Solanales 0.887","x":0.688,"y":0.525},{"c":"Solanales 0.887","x":0.697,"y":0.498},{"c":"Solanales 0.887","x":0.71,"y":0.45},{"c":"Solanales 0.887","x":0.725,"y":0.4},{"c":"Solanales 0.887","x":0.735,"y":0.35},{"c":"Solanales 0.887","x":0.745,"y":0.3},{"c":"Solanales 0.887","x":0.755,"y":0.25},{"c":"Solanales 0.887","x":0.765,"y":0.2},{"c":"Solanales 0.887","x":0.78,"y":0.15},{"c":"Solanales 0.887","x":0.8,"y":0.12},{"c":"Solanales 0.887","x":0.83,"y":0.1},{"c":"Solanales 0.887","x":0.86,"y":0.09},{"c":"Solanales 0.887","x":1,"y":0},

      {"c":"Goosefoot 0.448","x":0,"y":1},{"c":"Goosefoot 0.448","x":0.005,"y":1},{"c":"Goosefoot 0.448","x":0.007,"y":0.93},{"c":"Goosefoot 0.448","x":0.045,"y":0.93},{"c":"Goosefoot 0.448","x":0.045,"y":0.925},{"c":"Goosefoot 0.448","x":0.085,"y":0.917},{"c":"Goosefoot 0.448","x":0.107,"y":0.91},{"c":"Goosefoot 0.448","x":0.147,"y":0.903},{"c":"Goosefoot 0.448","x":0.18,"y":0.87},{"c":"Goosefoot 0.448","x":0.215,"y":0.85},{"c":"Goosefoot 0.448","x":0.243,"y":0.83},{"c":"Goosefoot 0.448","x":0.319,"y":0.818},{"c":"Goosefoot 0.448","x":0.327,"y":0.805},{"c":"Goosefoot 0.448","x":0.345,"y":0.78},{"c":"Goosefoot 0.448","x":0.36,"y":0.76},{"c":"Goosefoot 0.448","x":0.38,"y":0.73},{"c":"Goosefoot 0.448","x":0.4,"y":0.7},{"c":"Goosefoot 0.448","x":0.42,"y":0.67},{"c":"Goosefoot 0.448","x":0.435,"y":0.653},{"c":"Goosefoot 0.448","x":0.477,"y":0.653},{"c":"Goosefoot 0.448","x":0.477,"y":0.63},{"c":"Goosefoot 0.448","x":0.485,"y":0.62},{"c":"Goosefoot 0.448","x":0.513,"y":0.61},{"c":"Goosefoot 0.448","x":0.536,"y":0.602},{"c":"Goosefoot 0.448","x":0.557,"y":0.571},{"c":"Goosefoot 0.448","x":0.578,"y":0.538},{"c":"Goosefoot 0.448","x":0.593,"y":0.505},{"c":"Goosefoot 0.448","x":0.612,"y":0.485},{"c":"Goosefoot 0.448","x":0.638,"y":0.476},{"c":"Goosefoot 0.448","x":0.643,"y":0.452},{"c":"Goosefoot 0.448","x":0.654,"y":0.436},{"c":"Goosefoot 0.448","x":0.68,"y":0.41},{"c":"Goosefoot 0.448","x":0.7,"y":0.37},{"c":"Goosefoot 0.448","x":0.72,"y":0.3},{"c":"Goosefoot 0.448","x":0.74,"y":0.22},{"c":"Goosefoot 0.448","x":0.76,"y":0.15},{"c":"Goosefoot 0.448","x":0.78,"y":0.1},{"c":"Goosefoot 0.448","x":0.8,"y":0.08},{"c":"Goosefoot 0.448","x":1,"y":0},

      {"c":"Thistle 0.584","x":0,"y":1},{"c":"Thistle 0.584","x":0.88,"y":1},{"c":"Thistle 0.584","x":0.895,"y":0.95},{"c":"Thistle 0.584","x":0.902,"y":0.885},{"c":"Thistle 0.584","x":0.912,"y":0.816},{"c":"Thistle 0.584","x":0.923,"y":0.79},{"c":"Thistle 0.584","x":0.932,"y":0.724},{"c":"Thistle 0.584","x":0.938,"y":0.655},{"c":"Thistle 0.584","x":0.94,"y":0.64},{"c":"Thistle 0.584","x":0.94,"y":0.49},{"c":"Thistle 0.584","x":0.955,"y":0.435},{"c":"Thistle 0.584","x":0.96,"y":0.335},{"c":"Thistle 0.584","x":0.965,"y":0.25},{"c":"Thistle 0.584","x":0.972,"y":0.16},{"c":"Thistle 0.584","x":0.985,"y":0.08},{"c":"Thistle 0.584","x":1,"y":0},

      {"c":"all","x":0,"y":1},{"c":"all","x":0.03,"y":1},{"c":"all","x":0.05,"y":0.99},{"c":"all","x":0.1,"y":0.985},{"c":"all","x":0.13,"y":0.98},{"c":"all","x":0.2,"y":0.96},{"c":"all","x":0.25,"y":0.945},{"c":"all","x":0.3,"y":0.93},{"c":"all","x":0.316,"y":0.93},{"c":"all","x":0.345,"y":0.915},{"c":"all","x":0.4,"y":0.9},{"c":"all","x":0.45,"y":0.882},{"c":"all","x":0.468,"y":0.874},{"c":"all","x":0.5,"y":0.862},{"c":"all","x":0.54,"y":0.84},{"c":"all","x":0.57,"y":0.818},{"c":"all","x":0.6,"y":0.79},{"c":"all","x":0.63,"y":0.755},{"c":"all","x":0.655,"y":0.72},{"c":"all","x":0.685,"y":0.686},{"c":"all","x":0.705,"y":0.65},{"c":"all","x":0.72,"y":0.62},{"c":"all","x":0.745,"y":0.56},{"c":"all","x":0.77,"y":0.51},{"c":"all","x":0.8,"y":0.46},{"c":"all","x":0.83,"y":0.4},{"c":"all","x":0.857,"y":0.347},{"c":"all","x":0.88,"y":0.31},{"c":"all","x":0.9,"y":0.27},{"c":"all","x":0.925,"y":0.22},{"c":"all","x":0.95,"y":0.16},{"c":"all","x":0.965,"y":0.12},{"c":"all","x":0.98,"y":0.08},{"c":"all","x":0.99,"y":0.05},{"c":"all","x":1,"y":0.03}
    ]
  },
  "encoding": {
    "x": {
      "field": "x", "type": "quantitative", "title": "Recall",
      "scale": {"domain": [0, 1], "nice": false, "zero": false},
      "axis": {"values": [0, 0.2, 0.4, 0.6, 0.8, 1], "format": ".1f", "labelPadding": 10, "titlePadding": 24}
    },
    "y": {
      "field": "y", "type": "quantitative", "title": "Precision",
      "scale": {"domain": [0, 1], "nice": false, "zero": false},
      "axis": {"values": [0, 0.2, 0.4, 0.6, 0.8, 1], "format": ".1f", "labelPadding": 12, "titlePadding": 28}
    }
  },
  "layer": [
    {
      "transform": [{"filter": "datum.c !== 'all'"}],
      "mark": {"type": "line", "strokeWidth": 2.2, "clip": false},
      "encoding": {
        "order": {"value": null},
        "color": {
          "field": "c", "type": "nominal",
          "scale": {
            "domain": ["Soy 0.993", "Maize 0.959", "Potato 0.949", "Sugar beet 0.936", "Pumpkin 0.922", "Bean 0.922", "Solanales 0.887", "Sunflower 0.840", "Amaranth 0.812", "Plantago 0.770", "Crucifer 0.736", "Knotweed 0.736", "Chickweed 0.716", "Pea 0.707", "Labiate 0.703", "Potato weed 0.645", "Mercuries 0.615", "Geranium 0.613", "Grasses 0.611", "Poppy 0.594", "Thistle 0.584", "Chamomile 0.562", "Corn spurry 0.552", "Goosefoot 0.448"],
            "range": ["#1f77b4", "#aec7e8", "#ff7f0e", "#ffbb78", "#2ca02c", "#98df8a", "#d62728", "#ff9896", "#9467bd", "#c5b0d5", "#8c564b", "#c49c94", "#e377c2", "#f7b6d2", "#7f7f7f", "#c7c7c7", "#bcbd22", "#dbdb8d", "#17becf", "#9edae5", "#393b79", "#b5cf6b", "#ad494a", "#de9ed6"]
          },
          "legend": {
            "title": null,
            "orient": "none",
            "legendX": 1233,
            "legendY": 195,
            "columns": 2,
            "symbolType": "stroke",
            "symbolSize": 3969,
            "symbolStrokeWidth": 4,
            "labelFontSize": 32,
            "labelFont": "DejaVu Sans",
            "labelColor": "#111",
            "labelLimit": 600,
            "labelOffset": 18,
            "rowPadding": 7,
            "columnPadding": 60,
            "padding": 2,
            "strokeColor": "#aaaaaa",
            "fillColor": "white",
            "cornerRadius": 6
          }
        }
      }
    },
    {
      "transform": [{"filter": "datum.c === 'all'"}],
      "mark": {"type": "line", "strokeWidth": 8, "color": "#0000ff", "clip": true},
      "encoding": {"order": {"value": null}}
    }
  ],
  "config": {
    "view": {"stroke": null},
    "axis": {
      "grid": false,
      "domainColor": "#444",
      "domainWidth": 2,
      "tickColor": "#222",
      "tickWidth": 2,
      "tickSize": 7,
      "labelFont": "DejaVu Sans",
      "labelFontSize": 30,
      "labelColor": "#222",
      "labelFlush": false,
      "labelOverlap": false,
      "titleFont": "DejaVu Sans",
      "titleFontSize": 30,
      "titleFontWeight": "normal",
      "titleColor": "#222"
    }
  }
}
